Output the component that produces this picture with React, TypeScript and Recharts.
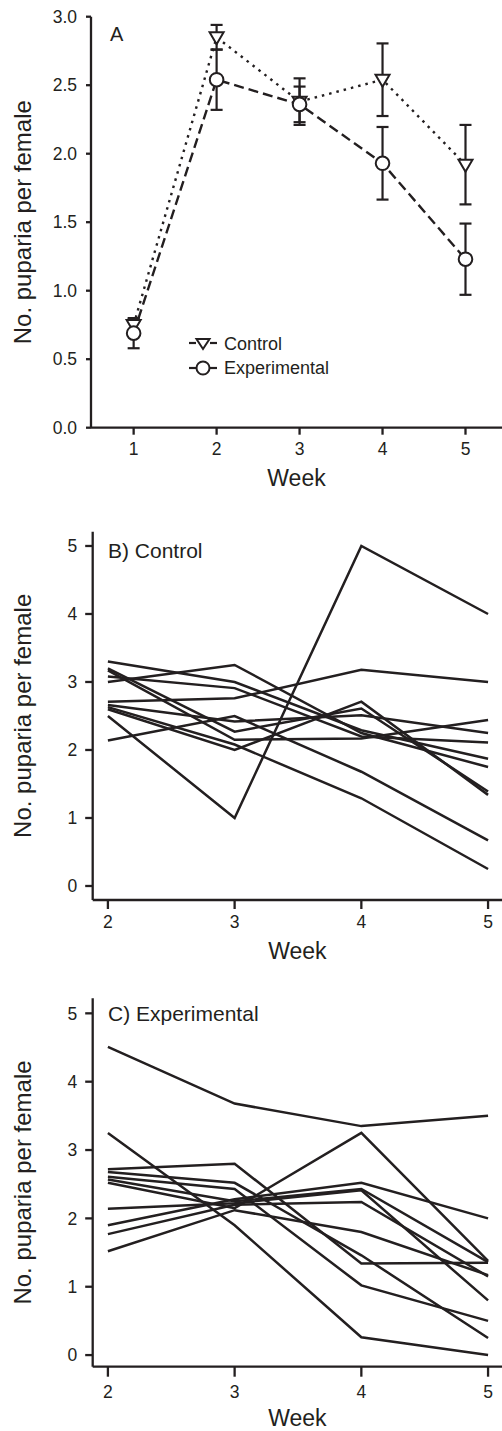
import React from 'react';
import { LineChart, Line, XAxis, YAxis, ErrorBar, Legend, Label } from 'recharts';

const ink = '#231f20';
const font = '"Liberation Sans", Arial, Helvetica, sans-serif';

// Panel A: weekly means +/- SE
const weeksA = [1, 2, 3, 4, 5];
const controlMean = [0.75, 2.85, 2.38, 2.54, 1.92];
const controlErr = [0.04, 0.09, 0.17, 0.265, 0.29];
const experimentalMean = [0.69, 2.54, 2.36, 1.93, 1.23];
const experimentalErr = [0.11, 0.22, 0.13, 0.265, 0.26];
const yTicksA = [0, 0.5, 1, 1.5, 2, 2.5, 3];

// Panels B and C: individual females, weeks 2-5
const weeksBC = [2, 3, 4, 5];
const yTicksBC = [0, 1, 2, 3, 4, 5];

const controlFemales = [
  [2.5, 1.0, 5.0, 4.0],
  [3.0, 3.25, 2.25, 1.75],
  [2.71, 2.76, 3.18, 3.0],
  [2.14, 2.5, 1.68, 0.67],
  [3.3, 3.0, 2.29, 1.87],
  [3.08, 2.91, 2.2, 2.11],
  [3.2, 2.27, 2.61, 1.39],
  [3.17, 2.15, 2.17, 2.44],
  [2.66, 2.42, 2.51, 2.25],
  [2.63, 2.08, 1.29, 0.25],
  [2.6, 2.0, 2.71, 1.34],
];

const experimentalFemales = [
  [4.51, 3.68, 3.35, 3.5],
  [3.25, 1.9, 0.26, 0.0],
  [2.72, 2.8, 1.34, 1.35],
  [2.68, 2.52, 1.46, 0.25],
  [2.61, 2.43, 1.02, 0.5],
  [2.57, 2.25, 2.43, 1.36],
  [2.52, 2.15, 3.25, 1.38],
  [2.14, 2.22, 2.41, 0.8],
  [1.9, 2.28, 2.52, 2.0],
  [1.77, 2.2, 2.24, 1.15],
  [1.52, 2.12, 1.8, 1.17],
];

const tableA = weeksA.map((week, i) => ({
  week,
  control: controlMean[i],
  controlErr: controlErr[i],
  experimental: experimentalMean[i],
  experimentalErr: experimentalErr[i],
}));

const buildTable = (females: number[][]) =>
  weeksBC.map((week, i) => {
    const row: any = { week };
    females.forEach((f, j) => {
      row['f' + j] = f[i];
    });
    return row;
  });

const TriangleDot = (props: any) => {
  const { cx, cy, index } = props;
  if (cx == null || cy == null) return null;
  return (
    <path
      key={'tri-' + index}
      d={`M${cx - 7},${cy - 5} L${cx + 7},${cy - 5} L${cx},${cy + 7} Z`}
      fill="#fff"
      stroke={ink}
      strokeWidth={2}
    />
  );
};

const CircleDot = (props: any) => {
  const { cx, cy, index } = props;
  if (cx == null || cy == null) return null;
  return <circle key={'circ-' + index} cx={cx} cy={cy} r={6.8} fill="#fff" stroke={ink} strokeWidth={2} />;
};

const renderLegend = () => (
  <div style={{ fontSize: 18, color: ink, lineHeight: '24px', fontFamily: font }}>
    <div style={{ display: 'flex', alignItems: 'center', height: 24 }}>
      <svg width={30} height={18}>
        <line x1={1} y1={8} x2={8} y2={8} stroke={ink} strokeWidth={2.2} />
        <line x1={22} y1={8} x2={29} y2={8} stroke={ink} strokeWidth={2.2} />
        <path d="M8.5,4 L21.5,4 L15,14 Z" fill="#fff" stroke={ink} strokeWidth={2} />
      </svg>
      <span style={{ marginLeft: 6 }}>Control</span>
    </div>
    <div style={{ display: 'flex', alignItems: 'center', height: 24 }}>
      <svg width={30} height={18}>
        <line x1={1} y1={9} x2={29} y2={9} stroke={ink} strokeWidth={2.2} />
        <circle cx={15} cy={9} r={6.5} fill="#fff" stroke={ink} strokeWidth={2} />
      </svg>
      <span style={{ marginLeft: 6 }}>Experimental</span>
    </div>
  </div>
);

const tickStyle = { fill: ink, fontSize: 17.5, fontFamily: font };
const axisStroke = { stroke: ink, strokeWidth: 2.3 };
const titleStyle = { fontSize: 23, fill: ink, fontFamily: font };
const yTitleStyle = { textAnchor: 'middle' as const, fontSize: 24, fill: ink, fontFamily: font };

const MeansPanel = () => (
  <LineChart
    width={502}
    height={490}
    data={tableA}
    margin={{ top: 16.7, right: 0, bottom: 0, left: 0 }}
  >
    <XAxis
      dataKey="week"
      type="number"
      domain={[0.486, 5.44]}
      ticks={weeksA}
      allowDataOverflow
      height={62.3}
      tickSize={7}
      tickMargin={8}
      tick={tickStyle}
      axisLine={axisStroke}
      tickLine={axisStroke}
    >
      <Label value="Week" position="insideBottom" offset={4} style={titleStyle} />
    </XAxis>
    <YAxis
      type="number"
      domain={[0, 3]}
      ticks={yTicksA}
      allowDataOverflow
      width={91}
      tickSize={5}
      tickMargin={9}
      tickFormatter={(v: number) => v.toFixed(1)}
      tick={tickStyle}
      axisLine={axisStroke}
      tickLine={axisStroke}
    >
      <Label value="No. puparia per female" angle={-90} position="insideLeft" offset={22} style={yTitleStyle} />
    </YAxis>
    <Legend
      layout="vertical"
      align="center"
      verticalAlign="middle"
      content={renderLegend}
      wrapperStyle={{ left: 188, top: 332, width: 180, height: 48 }}
    />
    <Line
      dataKey="control"
      name="Control"
      stroke={ink}
      strokeWidth={2.4}
      strokeDasharray="2.5 5"
      dot={TriangleDot}
      activeDot={false}
      isAnimationActive={false}
    >
      <ErrorBar dataKey="controlErr" direction="y" width={6} stroke={ink} strokeWidth={2.2} />
    </Line>
    <Line
      dataKey="experimental"
      name="Experimental"
      stroke={ink}
      strokeWidth={2.4}
      strokeDasharray="10 5"
      dot={CircleDot}
      activeDot={false}
      isAnimationActive={false}
    >
      <ErrorBar dataKey="experimentalErr" direction="y" width={6} stroke={ink} strokeWidth={2.2} />
    </Line>
    <text x={110} y={41} fontSize={20} fill={ink} fontFamily={font}>
      A
    </text>
  </LineChart>
);

interface FemalesPanelProps {
  title: string;
  females: number[][];
  height: number;
  marginTop: number;
  xAxisHeight: number;
  yDomain: [number, number];
  weekOffset: number;
  titleY: number;
  xTickSize: number;
  xTickMargin: number;
}

const FemalesPanel = ({
  title,
  females,
  height,
  marginTop,
  xAxisHeight,
  yDomain,
  weekOffset,
  titleY,
  xTickSize,
  xTickMargin,
}: FemalesPanelProps) => (
  <LineChart
    width={502}
    height={height}
    data={buildTable(females)}
    margin={{ top: marginTop, right: 0, bottom: 0, left: 0 }}
  >
    <XAxis
      dataKey="week"
      type="number"
      domain={[1.88, 5.11]}
      ticks={weeksBC}
      allowDataOverflow
      height={xAxisHeight}
      tickSize={xTickSize}
      tickMargin={xTickMargin}
      tick={tickStyle}
      axisLine={axisStroke}
      tickLine={axisStroke}
    >
      <Label value="Week" position="insideBottom" offset={weekOffset} style={titleStyle} />
    </XAxis>
    <YAxis
      type="number"
      domain={yDomain}
      ticks={yTicksBC}
      allowDataOverflow
      width={92.7}
      tickSize={7.5}
      tickMargin={8}
      tick={tickStyle}
      axisLine={axisStroke}
      tickLine={axisStroke}
    >
      <Label value="No. puparia per female" angle={-90} position="insideLeft" offset={22} style={yTitleStyle} />
    </YAxis>
    {females.map((_, j) => (
      <Line
        key={j}
        dataKey={'f' + j}
        stroke={ink}
        strokeWidth={2.5}
        dot={false}
        activeDot={false}
        isAnimationActive={false}
      />
    ))}
    <text x={108} y={titleY} fontSize={21} fill={ink} fontFamily={font}>
      {title}
    </text>
  </LineChart>
);

export default function App() {
  return (
    <div style={{ position: 'absolute', left: 0, top: 0, width: 502, height: 1431, background: '#fff', fontFamily: font }}>
      <div style={{ position: 'absolute', left: 0, top: 0 }}>
        <MeansPanel />
      </div>
      <div style={{ position: 'absolute', left: 0, top: 490 }}>
        <FemalesPanel
          title="B) Control"
          females={controlFemales}
          height={485}
          marginTop={41.7}
          xAxisHeight={75}
          yDomain={[-0.206, 5.21]}
          weekOffset={16}
          titleY={68}
          xTickSize={9}
          xTickMargin={7}
        />
      </div>
      <div style={{ position: 'absolute', left: 0, top: 975 }}>
        <FemalesPanel
          title="C) Experimental"
          females={experimentalFemales}
          height={456}
          marginTop={23.3}
          xAxisHeight={64.3}
          yDomain={[-0.17, 5.22]}
          weekOffset={5}
          titleY={46}
          xTickSize={10}
          xTickMargin={9}
        />
      </div>
    </div>
  );
}
